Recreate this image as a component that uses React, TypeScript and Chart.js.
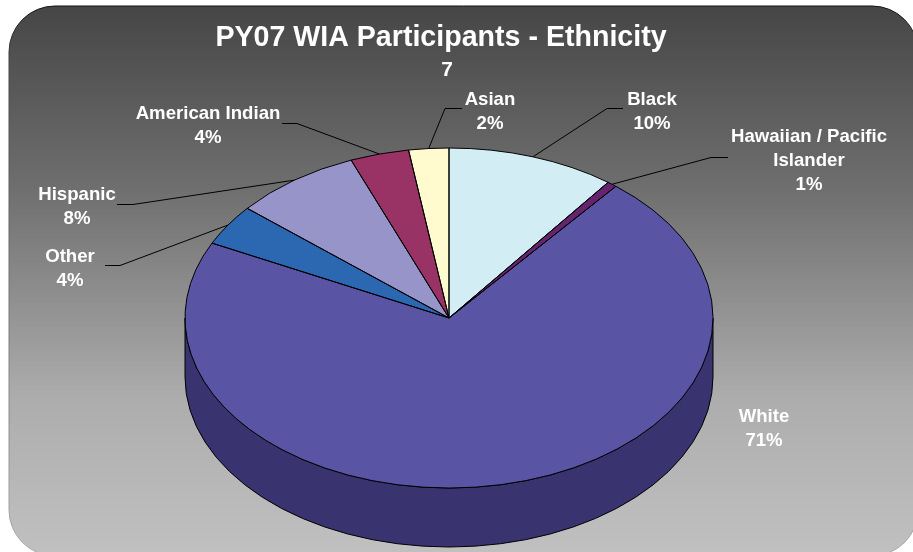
import React, { useEffect, useRef } from "react";
import { Chart, registerables } from "chart.js";

Chart.register(...registerables);

const titleText = "PY07 WIA Participants - Ethnicity";
const subtitleText = "7";
const categories = ["Black", "Hawaiian / Pacific Islander", "White", "Other", "Hispanic", "American Indian", "Asian"];
const values = [10.3, 0.6, 71.4, 3.9, 7.8, 3.6, 2.45];
const sliceColors = ["#D3EDF5", "#66246E", "#5A54A4", "#2C67B1", "#9794C9", "#993366", "#FFFBCF"];
const sideColors = ["#87979C", "#411746", "#39336F", "#1C4271", "#605E80", "#622141", "#A3A084"];
const labelLines = [["Black"], ["Hawaiian / Pacific", "Islander"], ["White"], ["Other"], ["Hispanic"], ["American Indian"], ["Asian"]];

const FONT = '"Liberation Sans", Arial, sans-serif';
const CENTER_Y = 318;
const SQUASH = 170 / 264;
const DEPTH = 59;
const LINE_H = 24;
// label box centre (x, first-line y) and leader elbow: [outer x, y, elbow x]
const labelPlace: [number, number][] = [[652, 100], [809, 137], [764, 417], [70, 257], [77, 195], [208, 114], [490, 100]];
const leaders: ([number, number, number] | null)[] = [
  [623, 108, 607],
  [728, 157, 711],
  null,
  [105, 265, 120],
  [117, 204, 133],
  [282, 123, 297],
  [462, 108, 445],
];

const pie3d = {
  id: "pie3d",
  beforeDraw(chart: any) {
    const ctx = chart.ctx as CanvasRenderingContext2D;
    const g = ctx.createLinearGradient(0, 6, 0, 552);
    g.addColorStop(0, "#464646");
    g.addColorStop(0.33, "#6e6e6e");
    g.addColorStop(0.72, "#adadad");
    g.addColorStop(1, "#c0c0c0");
    ctx.save();
    ctx.beginPath();
    ctx.roundRect(9, 6, 909, 550, 46);
    ctx.fillStyle = g;
    ctx.fill();
    const s = ctx.createLinearGradient(0, 6, 0, 552);
    s.addColorStop(0, "#111111");
    s.addColorStop(0.1, "#444444");
    s.addColorStop(1, "#aaaaaa");
    ctx.strokeStyle = s;
    ctx.lineWidth = 1;
    ctx.stroke();
    ctx.restore();
  },
  afterLayout(chart: any) {
    chart.boxes.forEach((b: any) => {
      const t = b.options && b.options.text;
      const shift = t === titleText ? -8 : t === subtitleText ? -2 : 0;
      if (shift) {
        b.left += shift;
        b.right += shift;
      }
    });
  },
  beforeDatasetsDraw(chart: any) {
    const ctx = chart.ctx as CanvasRenderingContext2D;
    const arcs = chart.getDatasetMeta(0).data;
    const first = arcs[0];
    // extruded wall: only the front half of the rim can be seen
    arcs.forEach((arc: any, i: number) => {
      const a = Math.max(arc.startAngle, 0);
      const b = Math.min(arc.endAngle, Math.PI);
      if (a >= b) return;
      const rx = arc.outerRadius;
      const ry = rx * SQUASH;
      ctx.beginPath();
      ctx.ellipse(arc.x, CENTER_Y, rx, ry, 0, a, b);
      ctx.ellipse(arc.x, CENTER_Y + DEPTH, rx, ry, 0, b, a, true);
      ctx.closePath();
      ctx.fillStyle = sideColors[i];
      ctx.fill();
      ctx.strokeStyle = "#000";
      ctx.lineWidth = 1;
      ctx.stroke();
    });
    ctx.save();
    ctx.translate(0, CENTER_Y);
    ctx.scale(1, SQUASH);
    ctx.translate(0, -first.y);
  },
  afterDatasetsDraw(chart: any) {
    const ctx = chart.ctx as CanvasRenderingContext2D;
    ctx.restore();
    const arcs = chart.getDatasetMeta(0).data;
    const total = values.reduce((p, v) => p + v, 0);
    arcs.forEach((arc: any) => {
      const rx = arc.outerRadius;
      const ry = rx * SQUASH;
      ctx.beginPath();
      ctx.moveTo(arc.x, CENTER_Y);
      ctx.ellipse(arc.x, CENTER_Y, rx, ry, 0, arc.startAngle, arc.endAngle);
      ctx.closePath();
      ctx.strokeStyle = "#000";
      ctx.lineWidth = 1;
      ctx.lineJoin = "bevel";
      ctx.stroke();
    });
    arcs.forEach((arc: any, i: number) => {
      const lead = leaders[i];
      const rx = arc.outerRadius;
      const ry = rx * SQUASH;
      if (lead) {
        const mid = (arc.startAngle + arc.endAngle) / 2;
        ctx.beginPath();
        ctx.moveTo(lead[0], lead[1] + 0.5);
        ctx.lineTo(lead[2], lead[1] + 0.5);
        ctx.lineTo(arc.x + rx * Math.cos(mid), CENTER_Y + ry * Math.sin(mid));
        ctx.strokeStyle = "#000";
        ctx.lineWidth = 1;
        ctx.stroke();
      }
      const lines = [...labelLines[i], Math.round((values[i] / total) * 100) + "%"];
      ctx.fillStyle = "#fff";
      ctx.font = `bold 18.6px ${FONT}`;
      ctx.textAlign = "center";
      ctx.textBaseline = "middle";
      lines.forEach((t, k) => ctx.fillText(t, labelPlace[i][0], labelPlace[i][1] + k * LINE_H));
    });
  },
};

export default function App() {
  const ref = useRef<HTMLCanvasElement>(null);
  useEffect(() => {
    document.body.style.margin = "0";
    document.body.style.background = "#fff";
    const chart = new Chart(ref.current!, {
      type: "pie",
      data: {
        labels: categories,
        datasets: [{ data: values, backgroundColor: sliceColors, borderWidth: 0 }],
      },
      options: {
        animation: false,
        responsive: false,
        layout: { padding: { left: 185, right: 200, top: 0, bottom: 0 } },
        plugins: {
          legend: { display: false },
          tooltip: { enabled: false },
          title: {
            display: true,
            text: titleText,
            color: "#fff",
            font: { family: FONT, size: 28.6, weight: "bold", lineHeight: 1.2 },
            padding: { top: 21.3, bottom: -55.6 },
          },
          subtitle: {
            display: true,
            text: subtitleText,
            color: "#fff",
            font: { family: FONT, size: 21, weight: "bold", lineHeight: 1.2 },
            padding: { top: 57.4, bottom: -82.6 },
          },
        },
      } as any,
      plugins: [pie3d],
    });
    return () => chart.destroy();
  }, []);
  return <canvas ref={ref} width={913} height={552} style={{ display: "block", width: 913, height: 552 }} />;
}
